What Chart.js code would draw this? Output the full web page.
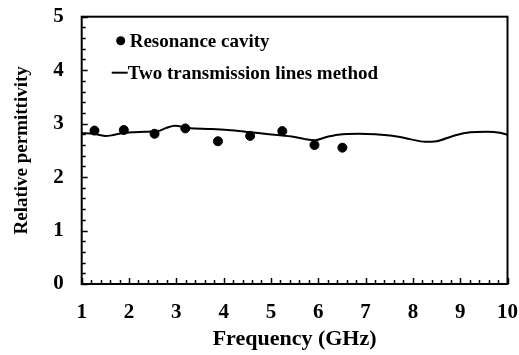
<!DOCTYPE html>
<html>
<head>
<meta charset="utf-8">
<script src="https://cdn.jsdelivr.net/npm/chart.js@4/dist/chart.umd.min.js"></script>
<style>
html,body{margin:0;padding:0;background:#fff;}
canvas{display:block;}
</style>
</head>
<body>
<canvas id="c" width="519" height="355"></canvas>
<script>
// Data
const seriesNames = ['Resonance cavity', 'Two transmission lines method'];
const cavityFreq = [1.27, 1.89, 2.54, 3.19, 3.88, 4.56, 5.24, 5.92, 6.51];
const cavityPerm = [2.87, 2.88, 2.81, 2.91, 2.67, 2.77, 2.86, 2.60, 2.55];
const lineFreq = [1.0, 1.25, 1.49, 1.63, 1.84, 2.12, 2.40, 2.61, 2.79, 2.97, 3.25, 3.74, 4.09, 4.45, 4.87, 5.44, 5.72, 5.93, 6.14, 6.42, 6.85, 7.20, 7.66, 7.94, 8.26, 8.50, 8.85, 9.21, 9.56, 9.84, 10.0];
const linePerm = [2.82, 2.81, 2.77, 2.78, 2.82, 2.84, 2.85, 2.86, 2.92, 2.96, 2.92, 2.90, 2.88, 2.85, 2.81, 2.76, 2.71, 2.69, 2.74, 2.79, 2.81, 2.80, 2.76, 2.71, 2.66, 2.67, 2.77, 2.84, 2.85, 2.83, 2.79];
const xTicks = [1, 2, 3, 4, 5, 6, 7, 8, 9, 10];
const yTicks = [0, 1, 2, 3, 4, 5];
const xTitle = 'Frequency (GHz)';
const yTitle = 'Relative permittivity';

const FONT = "'Liberation Serif', 'Times New Roman', serif";

const framePlugin = {
  id: 'frame',
  afterDatasetsDraw(chart) {
    const ctx = chart.ctx;
    const a = chart.chartArea;
    const xs = chart.scales.x, ys = chart.scales.y;
    ctx.save();
    ctx.strokeStyle = '#000';
    ctx.lineWidth = 2;
    ctx.strokeRect(a.left, a.top, a.right - a.left, a.bottom - a.top);
    ctx.lineWidth = 1.5;
    const xMin = xTicks[0], xMax = xTicks[xTicks.length - 1];
    for (let i = 0; i <= (xMax - xMin) * 5; i++) {
      const v = xMin + i * 0.2;
      const px = Math.round(xs.getPixelForValue(v)) + 0.5;
      const major = i % 5 === 0;
      ctx.beginPath();
      ctx.moveTo(px, a.bottom);
      ctx.lineTo(px, a.bottom - (major ? 6 : 4));
      ctx.stroke();
    }
    const yMin = yTicks[0], yMax = yTicks[yTicks.length - 1];
    for (let i = 0; i <= (yMax - yMin) * 5; i++) {
      const v = yMin + i * 0.2;
      const py = Math.round(ys.getPixelForValue(v)) + 0.5;
      const major = i % 5 === 0;
      ctx.beginPath();
      ctx.moveTo(a.left, py);
      ctx.lineTo(a.left + (major ? 6 : 4), py);
      ctx.stroke();
    }
    // legend
    ctx.fillStyle = '#000';
    ctx.font = 'bold 19px ' + FONT;
    ctx.textBaseline = 'middle';
    ctx.textAlign = 'left';
    const lx = a.left, ly = a.top;
    ctx.beginPath();
    ctx.arc(lx + 39, ly + 24, 4.5, 0, Math.PI * 2);
    ctx.fill();
    ctx.fillText(seriesNames[0], lx + 48, ly + 25);
    ctx.lineWidth = 2;
    ctx.beginPath();
    ctx.moveTo(lx + 30, ly + 56);
    ctx.lineTo(lx + 46, ly + 56);
    ctx.stroke();
    ctx.fillText(seriesNames[1], lx + 46, ly + 57);
    ctx.restore();
  }
};

new Chart(document.getElementById('c'), {
  type: 'scatter',
  data: {
    datasets: [
      {
        label: seriesNames[1],
        data: lineFreq.map((x, i) => ({x: x, y: linePerm[i]})),
        showLine: true,
        borderColor: '#000',
        borderWidth: 2,
        pointRadius: 0,
        tension: 0.4,
        cubicInterpolationMode: 'monotone',
        order: 2
      },
      {
        label: seriesNames[0],
        data: cavityFreq.map((x, i) => ({x: x, y: cavityPerm[i]})),
        showLine: false,
        backgroundColor: '#000',
        borderColor: '#000',
        pointRadius: 4.5,
        order: 1
      }
    ]
  },
  options: {
    responsive: false,
    devicePixelRatio: 1,
    animation: false,
    layout: {padding: {top: 16.7, right: 11.5, left: 0, bottom: 0}},
    plugins: {legend: {display: false}, tooltip: {enabled: false}},
    scales: {
      x: {
        type: 'linear',
        min: xTicks[0], max: xTicks[xTicks.length - 1],
        afterBuildTicks(s) { s.ticks = xTicks.map(v => ({value: v})); },
        afterFit(s) { s.height = 71; s.paddingLeft = 0; s.paddingRight = 0; },
        grid: {display: false, drawTicks: false},
        border: {display: false},
        ticks: {color: '#000', padding: 16, maxRotation: 0, font: {family: FONT, size: 21, weight: 'bold'}},
        title: {display: true, text: xTitle, color: '#000', padding: {top: 0, bottom: 2}, font: {family: FONT, size: 22, weight: 'bold'}}
      },
      y: {
        type: 'linear',
        min: yTicks[0], max: yTicks[yTicks.length - 1],
        afterBuildTicks(s) { s.ticks = yTicks.map(v => ({value: v})); },
        afterFit(s) { s.width = 81.7; s.paddingTop = 0; s.paddingBottom = 0; },
        grid: {display: false, drawTicks: false},
        border: {display: false},
        ticks: {color: '#000', padding: 18, font: {family: FONT, size: 21, weight: 'bold'}},
        title: {display: true, text: yTitle, color: '#000', padding: {top: 11, bottom: 0}, font: {family: FONT, size: 19, weight: 'bold'}}
      }
    }
  },
  plugins: [framePlugin]
});
</script>
</body>
</html>
